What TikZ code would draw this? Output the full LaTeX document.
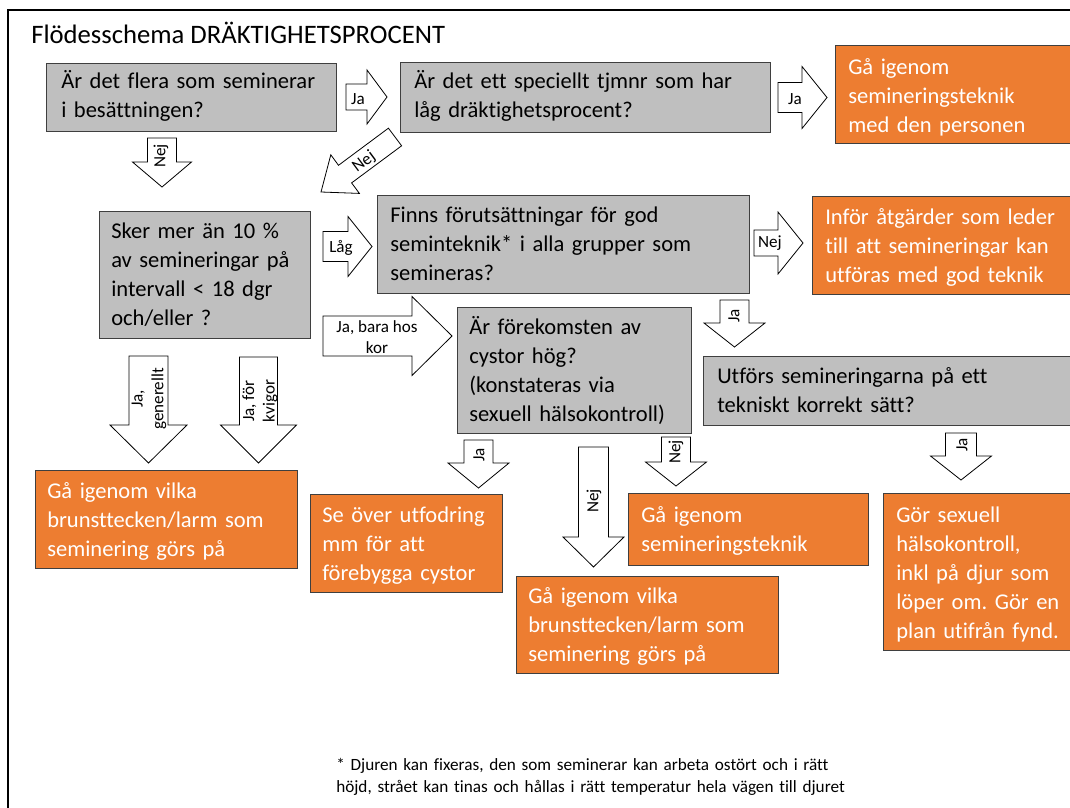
\documentclass[tikz,border=0pt]{standalone}
\usepackage{fontspec}
\setmainfont{Carlito}[Ligatures=NoCommon]
\frenchspacing
\definecolor{qgray}{HTML}{BFBFBF}
\definecolor{qline}{HTML}{3F3F3F}
\definecolor{aorange}{HTML}{ED7D31}
\tikzset{
  qbox/.style={draw=qline, fill=qgray, line width=0.75pt},
  abox/.style={draw=qline, fill=aorange, line width=0.75pt},
  qtext/.style={anchor=base west, inner sep=0.75pt, align=left, text width=#1, text=black, font=\fontsize{16.9}{21.75}\selectfont},
  atext/.style={qtext=#1, text=white},
  blockarrow/.style={draw=black, fill=white, line width=0.6pt},
  alabel/.style={inner sep=0.75pt, align=center, font=\fontsize{12.8}{15.5}\selectfont}
}
\begin{document}
\begin{tikzpicture}[x=0.75pt,y=0.75pt,yscale=-1,xscale=1]
\useasboundingbox (0,0) rectangle (1070,807);
\draw [line width=1.5pt] (1075,10) -- (8,10) -- (8,812) ;
\draw (30,43) node [anchor=base west][inner sep=0.75pt] (title) {\fontsize{20}{24}\selectfont Flödesschema DRÄKTIGHETSPROCENT};
% frågor
\draw [qbox] (46,63) rectangle (336,131) ;
\draw [qbox] (400,62) rectangle (770,132) ;
\draw [qbox] (99,211) rectangle (310,338) ;
\draw [qbox] (377,195) rectangle (749,293) ;
\draw [qbox] (457,307) rectangle (691,433) ;
\draw [qbox] (703,356) rectangle (1075,425) ;
\draw (60,88.5) node [qtext=202pt] (q1) {Är det flera som seminerar\\i besättningen?};
\draw (413,88.5) node [qtext=262pt] (q2) {Är det ett speciellt tjmnr som har\\låg dräktighetsprocent?};
\draw (110,238.5) node [qtext=143pt] (q3) {Sker mer än 10 \%\\av semineringar på\\intervall < 18 dgr\\och/eller ?};
\draw (389,222.5) node [qtext=264pt] (q4) {Finns förutsättningar för god\\seminteknik* i alla grupper som\\semineras?};
\draw (468,334) node [qtext=160pt] (q5) {Är förekomsten av\\cystor hög?\\(konstateras via\\sexuell hälsokontroll)};
\draw (716,383.5) node [qtext=264pt] (q6) {Utförs semineringarna på ett\\tekniskt korrekt sätt?};
% åtgärder
\draw [abox] (835,45) rectangle (1075,143) ;
\draw [abox] (812,196) rectangle (1075,294) ;
\draw [abox] (35,470) rectangle (297,568) ;
\draw [abox] (310,494) rectangle (502,592) ;
\draw [abox] (516,576) rectangle (778,673) ;
\draw [abox] (628,493) rectangle (868,565) ;
\draw [abox] (883,493) rectangle (1075,650) ;
\draw (847,74) node [atext=165pt] (o1) {Gå igenom\\semineringsteknik\\med den personen};
\draw (824,224) node [atext=182pt] (o2) {Inför åtgärder som leder\\till att semineringar kan\\utföras med god teknik};
\draw (46,498.5) node [atext=181pt] (o3) {Gå igenom vilka\\brunsttecken/larm som\\seminering görs på};
\draw (321,522.5) node [atext=129pt] (o4) {Se över utfodring\\mm för att\\förebygga cystor};
\draw (527,603.5) node [atext=181pt] (o5) {Gå igenom vilka\\brunsttecken/larm som\\seminering görs på};
\draw (640,522) node [atext=165pt] (o6) {Gå igenom\\semineringsteknik};
\draw (895,522.5) node [atext=129pt] (o7) {Gör sexuell\\hälsokontroll,\\inkl på djur som\\löper om. Gör en\\plan utifrån fynd.};
% pilar
\draw [blockarrow] (346,84) -- (367,84) -- (367,70) -- (387,97) -- (367,124) -- (367,110) -- (346,110) -- cycle ;
\draw [blockarrow] (778,82.5) -- (802,82.5) -- (802,66.5) -- (827,97.5) -- (802,128.5) -- (802,112.5) -- (778,112.5) -- cycle ;
\draw [blockarrow] (323,231.5) -- (348,231.5) -- (348,216.5) -- (372,246.5) -- (348,276.5) -- (348,261.5) -- (323,261.5) -- cycle ;
\draw [blockarrow] (323,316) -- (412,316) -- (412,296.5) -- (452,336) -- (412,375.5) -- (412,356) -- (323,356) -- cycle ;
\draw [blockarrow] (754,230) -- (778,230) -- (778,212) -- (803,243) -- (778,274) -- (778,256) -- (754,256) -- cycle ;
\draw [blockarrow] (388.4,128.2) -- (338.5,165.3) -- (330.8,154.8) -- (321,192) -- (359.4,193.4) -- (351.6,182.9) -- (401.6,145.8) -- cycle ;
\draw [blockarrow] (147.5,138) -- (176.5,138) -- (176.5,162) -- (191.5,162) -- (162,187) -- (132.5,162) -- (147.5,162) -- cycle ;
\draw [blockarrow] (129,356) -- (168,356) -- (168,425) -- (187,425) -- (148.5,463) -- (110,425) -- (129,425) -- cycle ;
\draw [blockarrow] (239.5,357) -- (277.5,357) -- (277.5,425) -- (296.5,425) -- (258.5,463) -- (220.5,425) -- (239.5,425) -- cycle ;
\draw [blockarrow] (720,300) -- (749,300) -- (749,323) -- (765,323) -- (734.5,347) -- (704,323) -- (720,323) -- cycle ;
\draw [blockarrow] (464,440) -- (493,440) -- (493,463) -- (509,463) -- (478.5,488) -- (448,463) -- (464,463) -- cycle ;
\draw [blockarrow] (578.5,447) -- (608.5,447) -- (608.5,537) -- (624,537) -- (593.5,567) -- (563,537) -- (578.5,537) -- cycle ;
\draw [blockarrow] (661.5,437) -- (690.5,437) -- (690.5,462) -- (706.5,462) -- (676,486) -- (645.5,462) -- (661.5,462) -- cycle ;
\draw [blockarrow] (945.5,433) -- (976.5,433) -- (976.5,456) -- (991.5,456) -- (961,480) -- (930.5,456) -- (945.5,456) -- cycle ;
\draw (358,99) node [alabel] (ja1) {Ja};
\draw (795,99) node [alabel] (ja2) {Ja};
\draw (341,248) node [alabel] (lag) {Låg};
\draw (377,337) node [alabel] (jakor) {Ja, bara hos\\kor};
\draw (770,243) node [alabel] (nej5) {Nej};
\draw (364,162) node [alabel, rotate=36.6] (nej2) {Nej};
\draw (161,156) node [alabel, rotate=90] (nej1) {Nej};
\draw (149,399) node [alabel, rotate=90] (jagen) {Ja,\\generellt};
\draw (260,401) node [alabel, rotate=90] (jakviga) {Ja, för\\kvigor};
\draw (734,316) node [alabel, rotate=90] (ja4) {Ja};
\draw (479,455) node [alabel, rotate=90] (ja5) {Ja};
\draw (594,501) node [alabel, rotate=90] (nej6) {Nej};
\draw (676,452) node [alabel, rotate=90] (nej7) {Nej};
\draw (962,445) node [alabel, rotate=90] (ja8) {Ja};
\draw (335,770) node [anchor=base west][inner sep=0.75pt, align=left, text width=390pt, font=\fontsize{12.9}{16.5}\selectfont] (note) {* Djuren kan fixeras, den som seminerar kan arbeta ostört och i rätt\\höjd, strået kan tinas och hållas i rätt temperatur hela vägen till djuret};
\end{tikzpicture}
\end{document}
